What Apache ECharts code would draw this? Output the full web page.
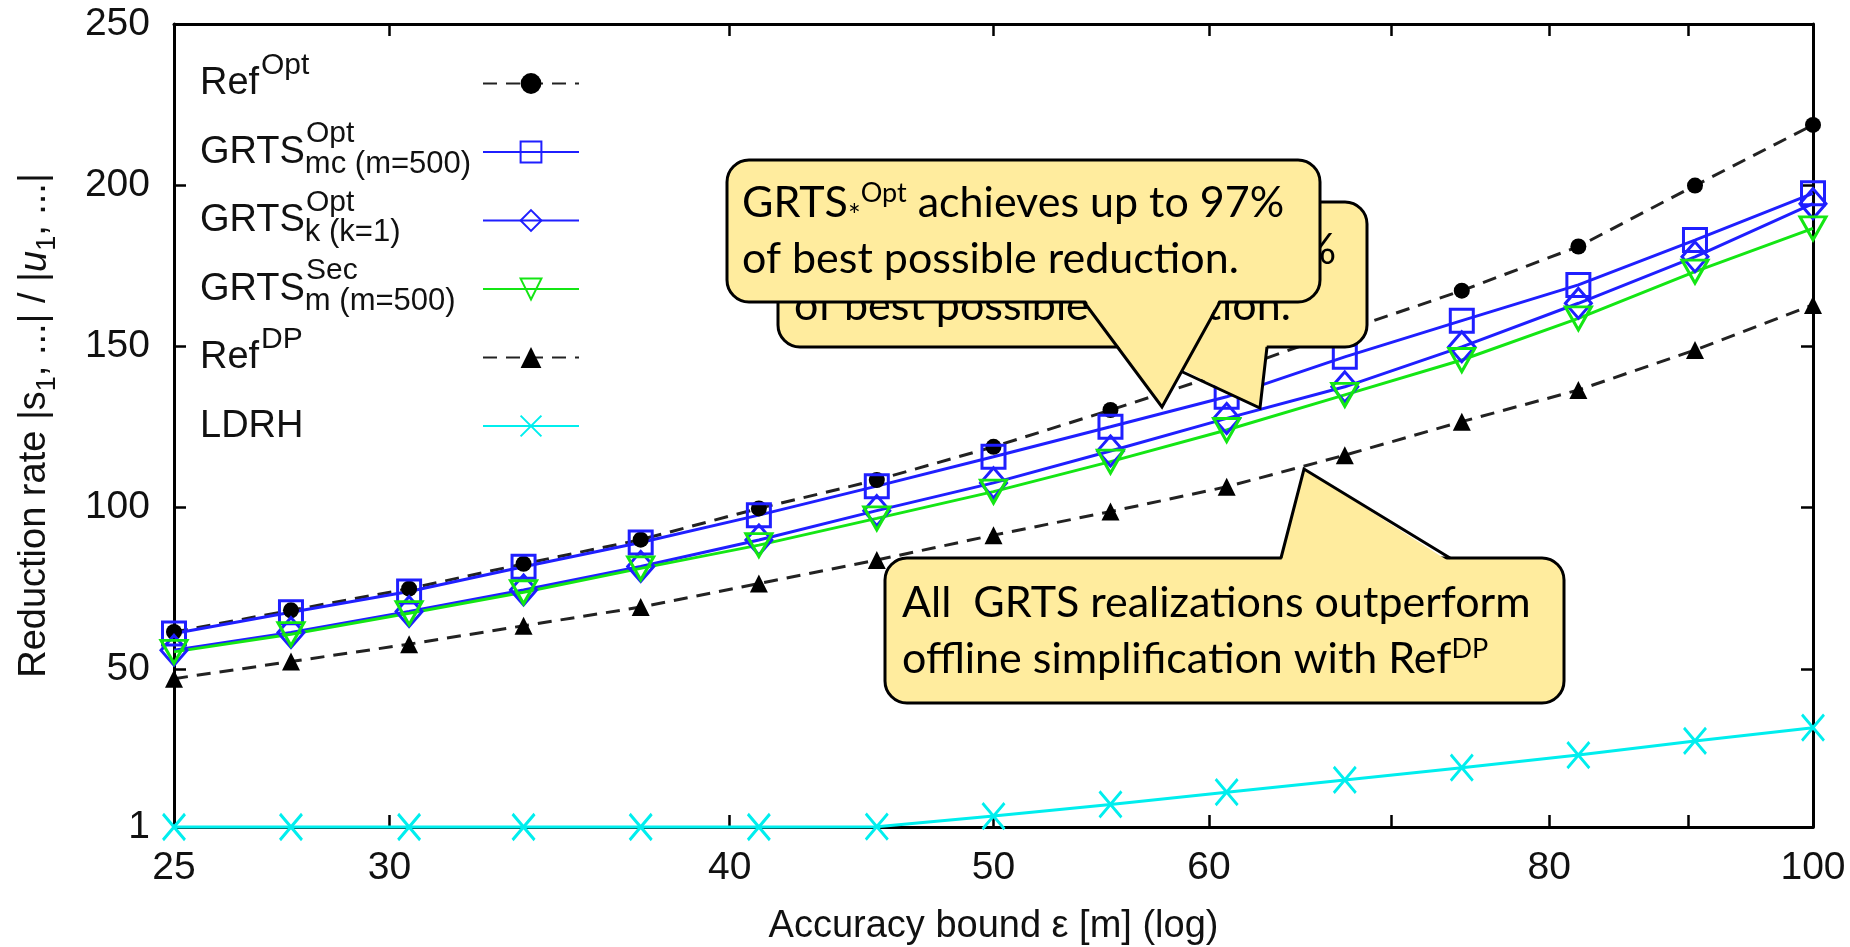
<!DOCTYPE html>
<html>
<head>
<meta charset="utf-8">
<script src="https://cdn.jsdelivr.net/npm/echarts@6/dist/echarts.min.js"></script>
<style>html,body{margin:0;padding:0;background:#fff}#c{width:1850px;height:947px}</style>
</head>
<body>
<div id="c"></div>
<script>
// ---------- data ----------
const epsilon = [25, 27.6, 30.5, 33.6, 37.1, 41.0, 45.3, 50, 55.2, 60.9, 67.3, 74.3, 82.0, 90.5, 100];
const refOpt  = [61.5, 68.2, 74.9, 82.6, 90.1, 99.8, 108.6, 118.9, 130.3, 142.0, 155.0, 167.3, 181.0, 199.9, 218.7];
const grtsMc  = [61.0, 67.6, 74.0, 81.7, 89.2, 97.7, 106.7, 115.8, 125.1, 134.4, 146.8, 158.0, 169.1, 183.0, 197.5];
const grtsK   = [55.8, 61.3, 67.8, 74.5, 81.8, 90.0, 99.1, 107.7, 117.6, 127.7, 137.5, 149.9, 163.4, 177.8, 194.3];
const grtsSec = [55.3, 60.8, 67.3, 73.8, 81.2, 88.4, 96.7, 105.0, 114.3, 124.1, 135.0, 145.8, 158.7, 173.2, 186.6];
const refDP   = [47.0, 52.3, 57.7, 63.4, 69.2, 76.5, 83.8, 91.5, 98.8, 106.5, 116.3, 126.7, 136.5, 148.9, 162.9];
const ldrh    = [1, 1, 1, 1, 1, 1, 1.1, 4.4, 8.0, 11.8, 15.6, 19.4, 23.3, 27.7, 31.8];

const xLabelValues = [25, 30, 40, 50, 60, 80, 100];
const xTickValues  = [30, 40, 50, 60, 70, 80, 90];
const yLabelValues = [1, 50, 100, 150, 200, 250];
const yTickValues  = [50, 100, 150, 200];

const seriesNames = ['RefOpt', 'GRTSmc', 'GRTSk', 'GRTSm', 'RefDP', 'LDRH'];
const legendLabels = {
  RefOpt: '{spR|Opt}\n{m|Ref}{sb| }',
  GRTSmc: '{spG|Opt}\n{m|GRTS}{sb|mc (m=500)}',
  GRTSk:  '{spG|Opt}\n{m|GRTS}{sb|k (k=1)}',
  GRTSm:  '{spG|Sec}\n{m|GRTS}{sb|m (m=500)}',
  RefDP:  '{spR|DP}\n{m|Ref}{sb| }',
  LDRH:   '{e| }\n{m|LDRH}{sb| }'
};

// ---------- styles ----------
const FONT = 'Liberation Sans';
const CFONT = 'Lato';
const BLUE = '#1f1fff', GREEN = '#14e614', CYAN = '#00eeee', DASH = '#222';
const CFILL = '#FFEC9E';

const pairs = ys => epsilon.map((x, i) => [x, ys[i]]);

const chart = echarts.init(document.getElementById('c'), null, {renderer: 'canvas'});

const axisLineStyle = {lineStyle: {color: '#000', width: 3}, onZero: false};
const tickStyle = {inside: true, length: 12, lineStyle: {color: '#000', width: 2.5}};

const richC = {
  t:  {fontFamily: CFONT, fontSize: 43, lineHeight: 56, fill: '#000', align: 'left'},
  sp: {fontFamily: CFONT, fontSize: 27, lineHeight: 36, height: 36, verticalAlign: 'top', fill: '#000', align: 'left'},
  sb: {fontFamily: CFONT, fontSize: 30, lineHeight: 29, verticalAlign: 'bottom', fill: '#000', align: 'left'}
};

let zc = 100;
function callout(r, pL, tip, pR, side, text, tx, ty) {
  const inset = side === 'bottom' ? -4 : 4;
  return [
    {type: 'rect', z: zc++, shape: {x: r[0], y: r[1], width: r[2], height: r[3], r: 22},
     style: {fill: CFILL, stroke: '#000', lineWidth: 3}},
    {type: 'polygon', z: zc++, shape: {points: [[pL[0], pL[1] + inset], tip, [pR[0], pR[1] + inset]]},
     style: {fill: CFILL, stroke: null}},
    {type: 'polyline', z: zc++, shape: {points: [pL, tip, pR]},
     style: {stroke: '#000', lineWidth: 3, fill: null, lineJoin: 'miter'}},
    {type: 'text', z: zc++, x: tx, y: ty,
     style: {text: text, rich: richC, fontFamily: CFONT, fontSize: 43, fill: '#000', align: 'left', verticalAlign: 'top'}}
  ];
}

const txtOpt = '{t|GRTS}{sb|*}{sp|Opt}{t| achieves up to 97%}\n{t|of best possible reduction.}';
const txtDP = '{t|All  GRTS realizations outperform}\n{t|offline simplification with Ref}{sp|DP}';

const graphics = [].concat(
  callout([778, 202, 589, 145], [1129, 347], [1260, 408], [1267, 347], 'bottom', txtOpt, 794, 222),
  callout([727, 160, 593, 142], [1084, 302], [1162, 407], [1220, 302], 'bottom', txtOpt, 742, 175),
  callout([885, 558, 679, 145], [1281, 558], [1304, 469], [1450, 558], 'top', txtDP, 902, 575)
);

const option = {
  animation: false,
  backgroundColor: '#fff',
  textStyle: {fontFamily: FONT},
  grid: {left: 174, right: 37, top: 24, bottom: 120, containLabel: false, outerBoundsMode: 'none'},
  xAxis: [
    {type: 'log', logBase: 10, min: 25, max: 100, position: 'bottom', z: 3,
     axisLine: axisLineStyle,
     axisTick: Object.assign({customValues: xTickValues}, tickStyle),
     axisLabel: {customValues: xLabelValues, fontSize: 39, color: '#111', fontFamily: FONT, margin: 22,
                 showMinLabel: true, showMaxLabel: true, hideOverlap: false},
     splitLine: {show: false}, minorTick: {show: false},
     name: 'Accuracy bound ε [m] (log)', nameLocation: 'middle', nameGap: 80,
     nameTextStyle: {fontSize: 38, color: '#111', fontFamily: FONT, lineHeight: 40}},
    {type: 'log', logBase: 10, min: 25, max: 100, position: 'top',
     axisLine: axisLineStyle,
     axisTick: Object.assign({customValues: xTickValues}, tickStyle),
     axisLabel: {show: false}, splitLine: {show: false}}
  ],
  yAxis: [
    {type: 'value', min: 1, max: 250, position: 'left',
     axisLine: Object.assign({show: true}, axisLineStyle),
     axisTick: Object.assign({show: true, customValues: yTickValues}, tickStyle),
     axisLabel: {customValues: yLabelValues, fontSize: 39, color: '#111', fontFamily: FONT, margin: 24},
     splitLine: {show: false},
     name: 'Reduction rate |s{sb|1}, ...| / |{it|u}{sb|1}, ...|', nameLocation: 'middle', nameRotate: 90, nameGap: 119,
     nameTextStyle: {fontSize: 38, color: '#111', fontFamily: FONT, lineHeight: 40,
       rich: {sb: {fontSize: 27, lineHeight: 14, height: 14, verticalAlign: 'bottom', color: '#111', fontFamily: FONT},
              it: {fontSize: 38, fontStyle: 'italic', color: '#111', fontFamily: FONT}}}},
    {type: 'value', min: 1, max: 250, position: 'right',
     axisLine: Object.assign({show: true}, axisLineStyle),
     axisTick: Object.assign({show: true, customValues: yTickValues}, tickStyle),
     axisLabel: {show: false}, splitLine: {show: false}}
  ],
  legend: {
    orient: 'vertical', left: 200, top: 50.5, padding: 0, itemGap: 8,
    itemWidth: 96, itemHeight: 26, align: 'right', selectedMode: false,
    data: seriesNames,
    formatter: name => legendLabels[name],
    textStyle: {
      width: 278, fontFamily: FONT, fontSize: 38, color: '#111',
      rich: {
        m:   {fontFamily: FONT, fontSize: 38, lineHeight: 36, color: '#111', align: 'left'},
        spR: {fontFamily: FONT, fontSize: 30, lineHeight: 1, padding: [0, 0, 0, 61], color: '#111', align: 'left'},
        spG: {fontFamily: FONT, fontSize: 30, lineHeight: 1, padding: [0, 0, 0, 106], color: '#111', align: 'left'},
        sb:  {fontFamily: FONT, fontSize: 31, lineHeight: 13, height: 13, verticalAlign: 'bottom', color: '#111', align: 'left'},
        e:   {fontFamily: FONT, fontSize: 30, lineHeight: 1, align: 'left'}
      }
    }
  },
  series: [
    {name: 'RefOpt', type: 'line', data: pairs(refOpt), clip: false,
     symbol: 'circle', symbolSize: 16,
     lineStyle: {color: DASH, width: 3, type: [14, 9]},
     itemStyle: {color: '#000'}},
    {name: 'GRTSmc', type: 'line', data: pairs(grtsMc), clip: false,
     symbol: 'rect', symbolSize: 23,
     lineStyle: {color: BLUE, width: 3},
     itemStyle: {color: 'none', borderColor: BLUE, borderWidth: 3}},
    {name: 'GRTSk', type: 'line', data: pairs(grtsK), clip: false,
     symbol: 'diamond', symbolSize: [26, 30],
     lineStyle: {color: BLUE, width: 3},
     itemStyle: {color: 'none', borderColor: BLUE, borderWidth: 3}},
    {name: 'GRTSm', type: 'line', data: pairs(grtsSec), clip: false,
     symbol: 'path://M0,0L20,0L10,17Z', symbolSize: [26, 23],
     lineStyle: {color: GREEN, width: 3},
     itemStyle: {color: 'none', borderColor: GREEN, borderWidth: 3}},
    {name: 'RefDP', type: 'line', data: pairs(refDP), clip: false,
     symbol: 'triangle', symbolSize: 18,
     lineStyle: {color: DASH, width: 3, type: [14, 9]},
     itemStyle: {color: '#000'}},
    {name: 'LDRH', type: 'line', data: pairs(ldrh), clip: false,
     symbol: 'path://M0,0L10,12M10,0L0,12', symbolSize: [22, 26],
     lineStyle: {color: CYAN, width: 3},
     itemStyle: {color: 'none', borderColor: CYAN, borderWidth: 3}}
  ],
  graphic: graphics
};

chart.setOption(option);
</script>
</body>
</html>
